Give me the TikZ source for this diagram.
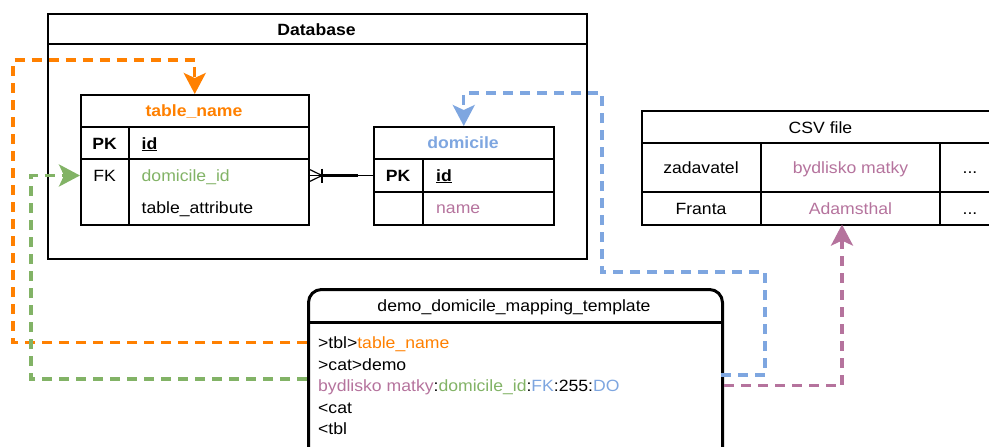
\documentclass[tikz,border=0pt]{standalone}
\usepackage{fontspec}
\setmainfont{Liberation Sans}[FakeStretch=1.08]
\usetikzlibrary{arrows.meta,calc}

\definecolor{orangec}{HTML}{FF8000}
\definecolor{greenc}{HTML}{82B366}
\definecolor{bluec}{HTML}{7EA6E0}
\definecolor{pinkc}{HTML}{B5739D}

\begin{document}
\begin{tikzpicture}[x=1pt,y=-1pt,
  lbl/.style={inner sep=0pt, text height=12pt, text depth=0pt, font=\fontsize{16.3}{19}\selectfont},
  hdr/.style={lbl, font=\fontsize{16.3}{19}\selectfont\bfseries},
  frame/.style={draw, line width=1.5pt, inner sep=0pt, anchor=north west},
  grid/.style={line width=1.5pt},
  link/.style={line width=3.2pt, dash pattern=on 10pt off 7pt,
    -{Stealth[length=21pt,width=22pt,inset=5pt]}},
  tplline/.style={lbl, anchor=base west}
]
\useasboundingbox (0,0) rectangle (989,447);

% ---------- Database container ----------
\node[frame, minimum width=539pt, minimum height=245pt] (db) at (47,13) {};
\draw[grid] (47,44) -- (586,44);
\node[hdr] (dbtitle) at (316.5,29) {Database};

% ---------- table_name entity ----------
\node[frame, minimum width=228pt, minimum height=130pt] (tname) at (80,94) {};
\draw[grid] (80,127) -- (308,127);
\draw[grid] (80,159) -- (308,159);
\draw[grid] (129,127) -- (129,224);
\node[hdr, text=orangec] (tntitle) at (194,110) {table\_name};
\node[hdr] (tnpk) at (104.5,143) {PK};
\node[hdr, anchor=west] (tnid) at (141.5,143) {\underline{id}};
\node[lbl] (tnfk) at (104.5,175.5) {FK};
\node[lbl, anchor=west, text=greenc] (tnfkid) at (141.5,175.5) {domicile\_id};
\node[lbl, anchor=west] (tnattr) at (141.5,207.5) {table\_attribute};

% ---------- domicile entity ----------
\node[frame, minimum width=180pt, minimum height=98pt] (dom) at (373,126) {};
\draw[grid] (373,159) -- (553,159);
\draw[grid] (373,192) -- (553,192);
\draw[grid] (423,159) -- (423,224);
\node[hdr, text=bluec] (domtitle) at (463,142.5) {domicile};
\node[hdr] (dompk) at (398,175) {PK};
\node[hdr, anchor=west] (domid) at (436,175) {\underline{id}};
\node[lbl, anchor=west, text=pinkc] (domname) at (436,207.5) {name};

% ---------- one-to-many relationship ----------
\draw[line width=1.2pt] (tname.east |- tnfk) -- (dom.west |- tnfk);
\draw[line width=2.8pt] (322,175.5) -- (358,175.5);
\draw[line width=1.2pt] (308.6,169) -- (322,175.5) -- (308.6,182);
\draw[line width=1.2pt] (322,168.5) -- (322,182.5);

% ---------- CSV file ----------
\node[frame, minimum width=359pt, minimum height=114pt] (csv) at (641,110) {};
\draw[grid] (641,143) -- (1000,143);
\draw[grid] (641,192) -- (1000,192);
\draw[grid] (761,143) -- (761,224);
\draw[grid] (940,143) -- (940,224);
\node[lbl] (csvtitle) at (820.5,127) {CSV file};
\node[lbl] (c11) at (701,167) {zadavatel};
\node[lbl, text=pinkc] (c12) at (850.5,167) {bydlisko matky};
\node[lbl] (c13) at (970,167) {...};
\node[lbl] (c21) at (701,208) {Franta};
\node[lbl, text=pinkc] (c22) at (850.5,208) {Adamsthal};
\node[lbl] (c23) at (970,208) {...};

% ---------- mapping template ----------
\node[draw, line width=3pt, rounded corners=13pt, minimum width=414pt,
      minimum height=190pt, anchor=north west, inner sep=0pt] (tpl) at (307,288) {};
\draw[line width=3pt] (307,322) -- (721,322);
\node[lbl] (tpltitle) at (514,305.5) {demo\_domicile\_mapping\_template};
\node[tplline] (l1) at (318,348.5) {>tbl>\textcolor{orangec}{table\_name}};
\node[tplline] (l2) at (318,370) {>cat>demo};
\node[tplline] (l3) at (318,391.5) {\textcolor{pinkc}{bydlisko matky}:\textcolor{greenc}{domicile\_id}:\textcolor{bluec}{FK}:255:\textcolor{bluec}{DO}};
\node[tplline] (l4) at (318,413) {<cat};
\node[tplline] (l5) at (318,434.5) {<tbl};

% ---------- mapping connectors ----------
\coordinate (obend) at (13,60);
\coordinate (gport) at (307,379);
\coordinate (gbend) at (31,175.5);
\coordinate (bport) at (721,375);
\coordinate (bbend1) at (765,272);
\coordinate (bbend2) at (602,93);
\coordinate (pend) at (842,224.6);

\draw[link, orangec] (tpl.west |- l1) -| (obend) -| (tname.north);
\draw[link, greenc] (gport) -| (gbend) -- (tname.west |- tnfk);
\draw[link, bluec] (bport) -| (bbend1) -| (bbend2) -| (dom.north);
\draw[link, pinkc] (tpl.east |- l3) -| (pend);
\end{tikzpicture}
\end{document}
